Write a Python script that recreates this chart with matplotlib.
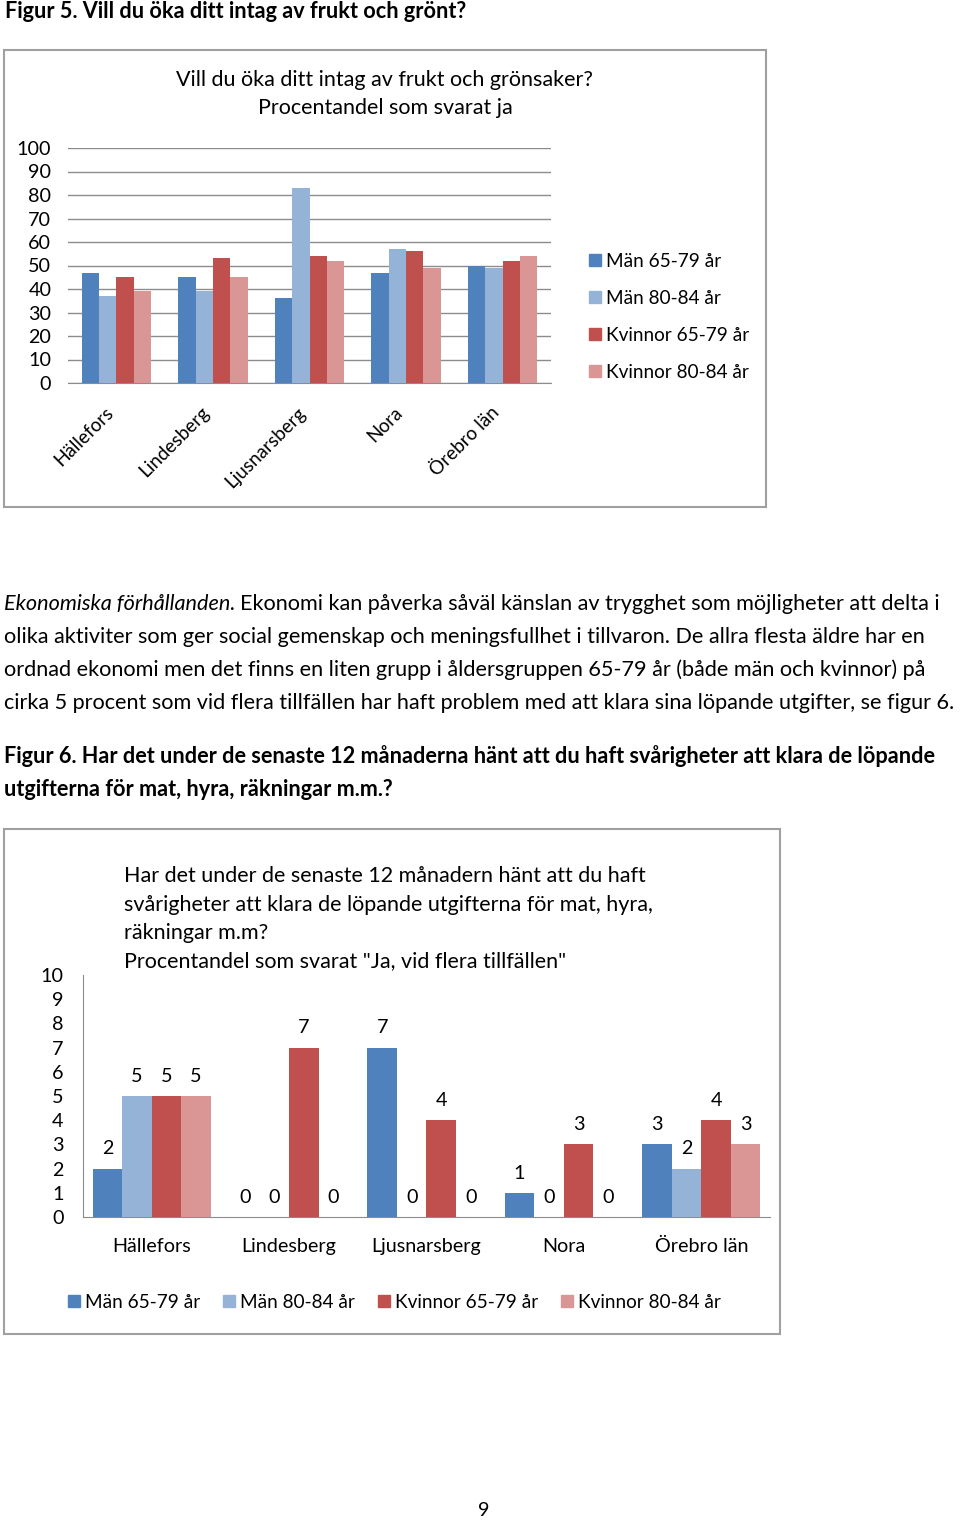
import matplotlib
matplotlib.use("Agg")
import matplotlib.pyplot as plt
import numpy as np
from matplotlib.patches import Rectangle, Patch

plt.rcParams["font.family"] = ["Lato", "DejaVu Sans"]

# Figur 5
kommuner = ["Hällefors", "Lindesberg", "Ljusnarsberg", "Nora", "Örebro län"]
grupper = ["Män 65-79 år", "Män 80-84 år", "Kvinnor 65-79 år", "Kvinnor 80-84 år"]
farger = ["#4F81BD", "#95B3D7", "#C0504D", "#D99694"]
frukt_man_65 = [47, 45, 36, 47, 50]
frukt_man_80 = [37, 39, 83, 57, 49]
frukt_kv_65 = [45, 53, 54, 56, 52]
frukt_kv_80 = [39, 45, 52, 49, 54]

# Figur 6
ekonomi_man_65 = [2, 0, 7, 1, 3]
ekonomi_man_80 = [5, 0, 0, 0, 2]
ekonomi_kv_65 = [5, 7, 4, 3, 4]
ekonomi_kv_80 = [5, 0, 0, 0, 3]

W, H = 960, 1521
fig = plt.figure(figsize=(W / 100, H / 100), dpi=100)


def fx(x):
    return x / W


def fy(y):
    return 1 - y / H


def ruta(x0, y0, x1, y1):
    fig.add_artist(Rectangle((fx(x0), fy(y1)), fx(x1 - x0), (y1 - y0) / H,
                             transform=fig.transFigure, fill=False,
                             edgecolor="#A0A0A0", linewidth=1.5))


brod = 15.6     # brödtext
diagtitel = 15.5
axel = 14.2
leg = 13.7

# ---- Figur 5 ----
fig.text(fx(5), fy(12), "Figur 5. Vill du öka ditt intag av frukt och grönt?",
         fontsize=brod, fontweight="bold", va="center")
ruta(4, 50, 766, 507)
fig.text(fx(385), fy(80), "Vill du öka ditt intag av frukt och grönsaker?",
         fontsize=diagtitel, ha="center", va="center")
fig.text(fx(385), fy(108), "Procentandel som svarat ja",
         fontsize=diagtitel, ha="center", va="center")

ax1 = fig.add_axes([fx(68), fy(383), (551 - 68) / W, (383 - 148) / H])
x = np.arange(len(kommuner))
b1 = 0.18
serier1 = [frukt_man_65, frukt_man_80, frukt_kv_65, frukt_kv_80]
for i, (s, c) in enumerate(zip(serier1, farger)):
    ax1.bar(x + (i - 1.5) * b1, s, b1, color=c, zorder=3)
ax1.set_ylim(0, 100)
ax1.set_xlim(-0.5, 4.5)
ax1.set_yticks(range(0, 101, 10))
ax1.yaxis.grid(True, color="#8C8C8C", linewidth=1, zorder=0)
for sp in ["top", "right", "left"]:
    ax1.spines[sp].set_visible(False)
ax1.spines["bottom"].set_color("#8C8C8C")
ax1.tick_params(axis="y", length=0, labelsize=axel, pad=12)
ax1.tick_params(axis="x", length=0)
ax1.set_xticks(x)
ax1.set_xticklabels(kommuner, rotation=45, ha="right", fontsize=13.6)
ax1.tick_params(axis="x", pad=15)

handles = [Patch(color=c) for c in farger]
fig.legend(handles, grupper, loc="upper left", bbox_to_anchor=(fx(572), fy(236)),
           frameon=False, fontsize=leg, handlelength=0.6, handleheight=0.6,
           handletextpad=0.3, labelspacing=1.05)

# ---- brödtext ----
rader = [
    "olika aktiviter som ger social gemenskap och meningsfullhet i tillvaron. De allra flesta äldre har en",
    "ordnad ekonomi men det finns en liten grupp i åldersgruppen 65-79 år (både män och kvinnor) på",
    "cirka 5 procent som vid flera tillfällen har haft problem med att klara sina löpande utgifter, se figur 6.",
]
kursiv = fig.text(fx(4), fy(604), "Ekonomiska förhållanden.", fontsize=brod,
                  style="italic", va="center")
r = fig.canvas.get_renderer()
bb = kursiv.get_window_extent(renderer=r)
fig.text(bb.x1 / W + fx(5), fy(604),
         "Ekonomi kan påverka såväl känslan av trygghet som möjligheter att delta i",
         fontsize=brod, va="center")
for k, rad in enumerate(rader):
    fig.text(fx(4), fy(637 + 33 * k), rad, fontsize=brod, va="center")

fig.text(fx(4), fy(756),
         "Figur 6. Har det under de senaste 12 månaderna hänt att du haft svårigheter att klara de löpande",
         fontsize=brod, fontweight="bold", va="center")
fig.text(fx(4), fy(789), "utgifterna för mat, hyra, räkningar m.m.?",
         fontsize=brod, fontweight="bold", va="center")

# ---- Figur 6 ----
ruta(4, 829, 780, 1334)
titel2 = [
    "Har det under de senaste 12 månadern hänt att du haft",
    "svårigheter att klara de löpande utgifterna för mat, hyra,",
    "räkningar m.m?",
    "Procentandel som svarat \"Ja, vid flera tillfällen\"",
]
for k, rad in enumerate(titel2):
    fig.text(fx(124), fy(876 + 28.5 * k), rad, fontsize=diagtitel, va="center")

ax2 = fig.add_axes([fx(83), fy(1217), (770 - 83) / W, (1217 - 975) / H])
b2 = 0.215
serier2 = [ekonomi_man_65, ekonomi_man_80, ekonomi_kv_65, ekonomi_kv_80]
for i, (s, c) in enumerate(zip(serier2, farger)):
    st = ax2.bar(x + (i - 1.5) * b2, s, b2, color=c, zorder=3)
    ax2.bar_label(st, padding=8, fontsize=axel)
ax2.set_ylim(0, 10)
ax2.set_xlim(-0.5, 4.5)
ax2.set_yticks(range(0, 11))
for sp in ["top", "right"]:
    ax2.spines[sp].set_visible(False)
for sp in ["left", "bottom"]:
    ax2.spines[sp].set_color("#8C8C8C")
ax2.tick_params(axis="both", length=0, labelsize=axel)
ax2.tick_params(axis="y", pad=14)
ax2.set_xticks(x)
ax2.set_xticklabels(kommuner)
ax2.tick_params(axis="x", pad=15)

fig.legend(handles, grupper, loc="center left", bbox_to_anchor=(fx(51), fy(1302)),
           frameon=False, fontsize=leg, ncol=4, handlelength=0.6,
           handleheight=0.6, handletextpad=0.3, columnspacing=1.2)

fig.text(fx(484), fy(1510), "9", fontsize=axel, ha="center", va="center")

fig.savefig("out.png", dpi=100)
